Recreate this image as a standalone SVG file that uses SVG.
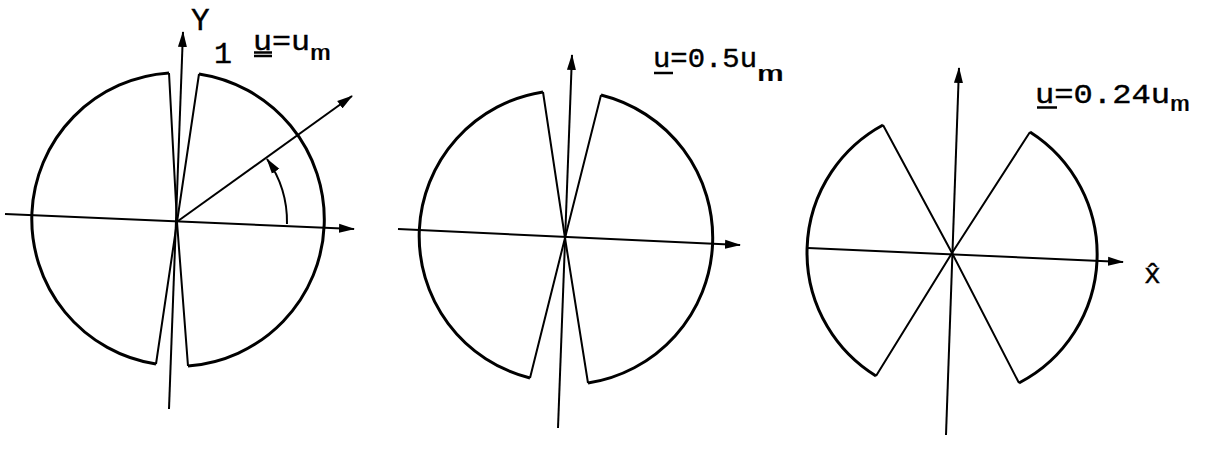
<svg xmlns="http://www.w3.org/2000/svg" width="1206" height="449" viewBox="0 0 1206 449">
<style>
.arc{fill:none;stroke:#000;stroke-width:3}
.rad{fill:none;stroke:#000;stroke-width:2;stroke-linejoin:miter}
.ax{fill:none;stroke:#000;stroke-width:2}
.t{font-family:"Liberation Mono","DejaVu Sans Mono",monospace;font-size:28px;fill:#000;stroke:#000;stroke-width:0.4}
.s{font-family:"Liberation Mono","DejaVu Sans Mono",monospace;font-size:22px;fill:#000;stroke:#000;stroke-width:0.15}
.ul{stroke:#000;stroke-width:2.5}
</style>
<defs>
<marker id="ah" markerUnits="userSpaceOnUse" markerWidth="16" markerHeight="10" refX="15" refY="5" orient="auto" viewBox="0 0 16 10">
<path d="M0,0.5 L16,5 L0,9.5 Z" fill="#000"/>
</marker>
</defs>
<rect width="1206" height="449" fill="#fff"/>

<g id="fig1">
<path class="rad" d="M199,74 L177,222 L188,366"/>
<path class="arc" d="M199,74 A147,147 0 0 1 188,366"/>
<path class="rad" d="M169,73 L177,222 L156,364"/>
<path class="arc" d="M169,73 A146.5,146.5 0 0 0 156,364"/>
<text class="t" x="191" y="30" style="font-size:31px">Y</text>
<text class="t" x="214" y="63" style="font-size:30px">1</text>
<text class="t" x="253" y="50" textLength="57" lengthAdjust="spacingAndGlyphs">u=u</text>
<text class="s" x="310" y="60" textLength="21" lengthAdjust="spacingAndGlyphs">m</text>
<line class="ul" x1="254" y1="52.5" x2="272" y2="52.5" stroke-width="1.5"/>
<line class="ul" x1="254" y1="56" x2="272" y2="56" stroke-width="1.5"/>
</g>

<g id="fig2">
<path class="rad" d="M601,95 L565,238 L588,383"/>
<path class="arc" d="M601,95 A147,147 0 0 1 588,383"/>
<path class="rad" d="M543,92 L565,238 L530,378"/>
<path class="arc" d="M543,92 A146,146 0 0 0 530,378"/>
<text class="t" x="653" y="67" textLength="104" lengthAdjust="spacingAndGlyphs">u=0.5u</text>
<text class="s" x="757" y="81" textLength="27" lengthAdjust="spacingAndGlyphs">m</text>
<line class="ul" x1="654" y1="73" x2="673" y2="73"/>
</g>

<g id="fig3">
<path class="rad" d="M1030,132 L952,253 L1019,383"/>
<path class="arc" d="M1030,132 A145,145 0 0 1 1019,383"/>
<path class="rad" d="M883,125 L952,253 L876,376"/>
<path class="arc" d="M883,125 A145,145 0 0 0 876,376"/>
<text class="t" x="1035" y="103" textLength="135" lengthAdjust="spacingAndGlyphs">u=0.24u</text>
<text class="s" x="1170" y="111" textLength="20" lengthAdjust="spacingAndGlyphs">m</text>
<line class="ul" x1="1037" y1="107.5" x2="1057" y2="107.5"/>
<text class="t" x="1144" y="283">x̂</text>
</g>

<g id="connectors">
<line class="ax" x1="5" y1="214" x2="354" y2="229" marker-end="url(#ah)"/>
<line class="ax" x1="169" y1="409" x2="183" y2="32" marker-end="url(#ah)"/>
<line class="ax" x1="178" y1="221" x2="352" y2="96" marker-end="url(#ah)"/>
<path class="ax" d="M287,224 A109,109 0 0 0 267,159" marker-end="url(#ah)"/>
<line class="ax" x1="398" y1="229" x2="740" y2="245" marker-end="url(#ah)"/>
<line class="ax" x1="558" y1="428" x2="572" y2="55" marker-end="url(#ah)"/>
<line class="ax" x1="808" y1="248" x2="1123" y2="262" marker-end="url(#ah)"/>
<line class="ax" x1="946" y1="435" x2="959" y2="68" marker-end="url(#ah)"/>
</g>
</svg>
